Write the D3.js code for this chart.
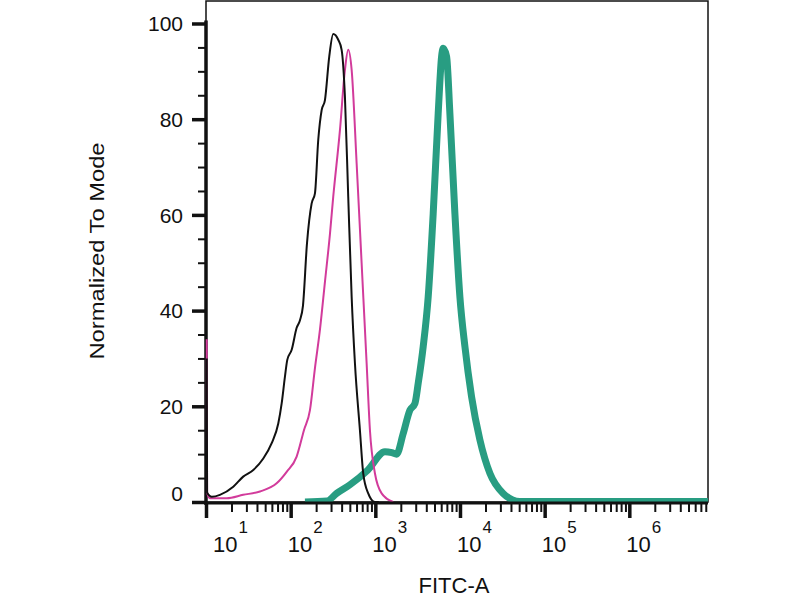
<!DOCTYPE html>
<html>
<head>
<meta charset="utf-8">
<script src="https://cdn.jsdelivr.net/npm/d3@7"></script>
<style>
  body { margin: 0; background: #fff; }
  text { font-family: "Liberation Sans", Arial, sans-serif; fill: #111; }
</style>
</head>
<body>
<svg class="chart"></svg>
<script>
// Histogram values (FITC-A intensity, % of mode)
const blackX = [10.2, 10.3, 11.7, 14.6, 21.0, 27.5, 36.2, 47.5, 59.7, 71.4, 78.3, 85.6, 91.2, 102.8, 117.7, 128.8, 139.7, 155.8, 177, 193.6, 211.8, 232.3, 254.1, 285.6, 318.4, 364.8, 400, 437.5, 478.6, 525.2, 574.4, 657.9, 719.5, 824.5, 989, 1100];
const blackY = [30, 2, 1.1, 1.5, 3.2, 5.3, 6.7, 9.1, 12.3, 16.4, 20.6, 26.2, 29.7, 31.8, 36.4, 38.0, 41, 54, 62.4, 64.5, 75.7, 81.9, 84.0, 93.1, 97.8, 96.6, 94.5, 84.7, 63.8, 42.9, 29.0, 15.0, 6.0, 1.8, 0, 0];

const magentaX = [10.2, 10.3, 11.15, 17.55, 27.5, 43.4, 68.3, 89.7, 117.7, 143.6, 169, 193.6, 221.8, 254.1, 291, 318.4, 382, 437.5, 478.6, 525.2, 601.4, 689, 789.5, 863.7, 989, 1187, 1627];
const magentaY = [34, 2, 0.8, 0.8, 1.5, 2.2, 3.9, 6.3, 9.5, 15, 19.2, 28, 36, 46, 56, 63.8, 77.7, 90.3, 94.5, 90.3, 70.8, 49.9, 29.0, 15.0, 6.0, 1.8, 0];

const tealX = [147.5, 268.3, 349.2, 501.3, 817.7, 1298, 1570, 1784, 2135, 2562, 2935, 3210, 3678, 4213, 4826, 5528, 6066, 6334, 6946, 7600, 8708, 9973, 11430, 13705, 17176, 22540, 32360, 50950, 8500000];
const tealY = [0, 0.2, 1.8, 3.6, 6.7, 10.5, 10.3, 10.0, 14.3, 19.2, 20.6, 24.8, 32.5, 42.9, 60.3, 81.2, 93.1, 94.8, 93.1, 81.2, 60.3, 42.9, 32.5, 22.0, 13.0, 6.0, 1.8, 0.1, 0.1];

// Tick values
const xMajorTicks = [10, 100, 1000, 10000, 100000, 1000000];
const xTickExps = ["1", "2", "3", "4", "5", "6"];
const yMajorTicks = [0, 20, 40, 60, 80, 100];

// Set the dimensions and margins of the graph
const margin = { top: 1, right: 92, bottom: 98, left: 206 },
  width = 800 - margin.left - margin.right,
  height = 600 - margin.top - margin.bottom;

const x = d3.scaleLog().domain([10, 8.5e6]).range([0, width]);
const y = d3.scaleLinear().domain([0, 104.7]).range([height, 0]);

const svg = d3
  .select(".chart")
  .attr("width", 800)
  .attr("height", 600)
  .append("g")
  .attr("transform", "translate(" + margin.left + "," + margin.top + ")");

// Thin frame round the plot
svg
  .append("rect")
  .attr("x", 0)
  .attr("y", 0)
  .attr("width", width)
  .attr("height", height)
  .attr("fill", "none")
  .attr("stroke", "#111")
  .attr("stroke-width", 1.5);

// Minor ticks
const xMinorTicks = [];
xMajorTicks.forEach(function (d) {
  for (let k = 2; k <= 9; k++) {
    if (d * k <= 8.5e6) xMinorTicks.push(d * k);
  }
});
const yMinorTicks = d3.range(5, 105, 5).filter(function (d) {
  return d % 20 !== 0;
});

// x axis: minor ticks, then major ticks
svg
  .append("g")
  .attr("transform", "translate(0," + height + ")")
  .call(d3.axisBottom(x).tickValues(xMinorTicks).tickSize(10).tickFormat(""))
  .call(function (g) {
    g.select(".domain").remove();
    g.selectAll(".tick line").attr("stroke", "#111").attr("stroke-width", 2);
  });

svg
  .append("g")
  .attr("transform", "translate(0," + height + ")")
  .call(d3.axisBottom(x).tickValues(xMajorTicks).tickSize(16).tickFormat(""))
  .call(function (g) {
    g.select(".domain").remove();
    g.selectAll(".tick line").attr("stroke", "#111").attr("stroke-width", 3.5);
  });

// x tick labels with superscript exponents
const xLabels = svg
  .append("g")
  .selectAll("text")
  .data(xMajorTicks)
  .enter()
  .append("text")
  .attr("x", function (d) {
    return Math.max(x(d) - 3, 7);
  })
  .attr("y", height + 50)
  .style("font-size", "22px")
  .text("10");
xLabels
  .append("tspan")
  .attr("dx", 1)
  .attr("dy", -19)
  .style("font-size", "17px")
  .text(function (d, i) {
    return xTickExps[i];
  });

// y axis: minor ticks, then major ticks with labels
svg
  .append("g")
  .call(d3.axisLeft(y).tickValues(yMinorTicks).tickSize(8).tickFormat(""))
  .call(function (g) {
    g.select(".domain").remove();
    g.selectAll(".tick line").attr("stroke", "#111").attr("stroke-width", 2);
  });

svg
  .append("g")
  .call(d3.axisLeft(y).tickValues(yMajorTicks).tickSize(14).tickPadding(9))
  .call(function (g) {
    g.select(".domain").remove();
    g.selectAll(".tick line").attr("stroke", "#111").attr("stroke-width", 3.5);
    g.selectAll(".tick text")
      .attr("font-family", null)
      .style("font-size", "21px")
      .attr("fill", "#111")
      .attr("dy", function (d) {
        return d === 0 ? "-0.05em" : "0.35em";
      });
  });

// Thick y axis line
svg
  .append("line")
  .attr("x1", 0)
  .attr("x2", 0)
  .attr("y1", y(100) - 3)
  .attr("y2", height + 3)
  .attr("stroke", "#111")
  .attr("stroke-width", 3.5);

// Histogram lines, clipped to the plot area
svg
  .append("clipPath")
  .attr("id", "plot-clip")
  .append("rect")
  .attr("x", -3)
  .attr("y", 0)
  .attr("width", width + 3)
  .attr("height", height);

const line = d3
  .line()
  .curve(d3.curveMonotoneX)
  .x(function (d) {
    return x(d[0]);
  })
  .y(function (d) {
    return y(d[1]);
  });

const series = [
  { xs: tealX, ys: tealY, color: "#289d82", w: 7 },
  { xs: magentaX, ys: magentaY, color: "#d23b9b", w: 2 },
  { xs: blackX, ys: blackY, color: "#111", w: 2 },
];

svg
  .append("g")
  .attr("clip-path", "url(#plot-clip)")
  .selectAll("path")
  .data(series)
  .enter()
  .append("path")
  .attr("fill", "none")
  .attr("stroke", function (d) {
    return d.color;
  })
  .attr("stroke-width", function (d) {
    return d.w;
  })
  .attr("stroke-linejoin", "round")
  .attr("d", function (d) {
    return line(d3.zip(d.xs, d.ys));
  });

// Bottom axis line over the curves
svg
  .append("line")
  .attr("x1", 0)
  .attr("x2", width)
  .attr("y1", height + 1)
  .attr("y2", height + 1)
  .attr("stroke", "#111")
  .attr("stroke-width", 3);

// Axis titles
svg
  .append("text")
  .attr("x", 454 - margin.left)
  .attr("y", 593 - margin.top)
  .style("text-anchor", "middle")
  .style("font-size", "22px")
  .text("FITC-A");

svg
  .append("text")
  .attr("transform", "translate(" + (104 - margin.left) + "," + (251 - margin.top) + ") rotate(-90)")
  .style("text-anchor", "middle")
  .style("font-size", "20px")
  .attr("textLength", 217)
  .attr("lengthAdjust", "spacingAndGlyphs")
  .text("Normalized To Mode");
</script>
</body>
</html>
